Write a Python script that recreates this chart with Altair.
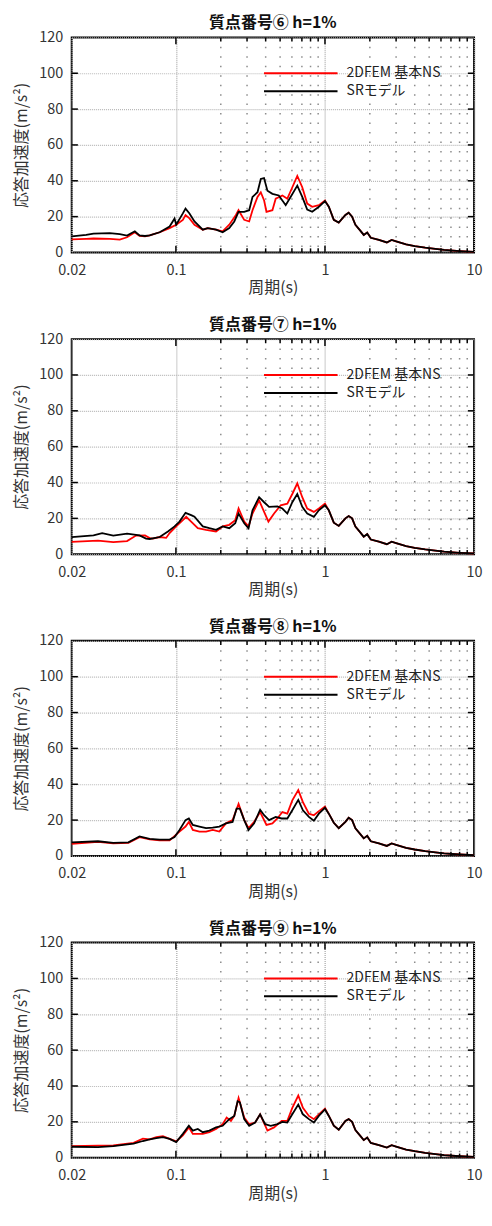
import altair as alt
import pandas as pd

FONT = "Noto Sans CJK JP"

series_names = ["2DFEM 基本NS", "SRモデル"]
series_colors = ["#ff0000", "#000000"]
titles = ["質点番号⑥ h=1%", "質点番号⑦ h=1%", "質点番号⑧ h=1%", "質点番号⑨ h=1%"]

x_label_values = [0.02, 0.1, 1, 10]
y_label_values = [0, 20, 40, 60, 80, 100, 120]
minor_T = [0.2, 0.3, 0.4, 0.5, 0.6, 0.7, 0.8, 0.9, 2, 3, 4, 5, 6, 7, 8, 9]
major_T = [0.1, 1]
y_tick_values = [20, 40, 60, 80, 100]

# shared long-period tail (both models coincide there)
tail_T = [1.52, 1.6, 1.72, 1.82, 1.92, 2.03, 2.3, 2.6, 2.8, 3.0, 3.5, 4.0, 4.7, 5.5, 6.3, 8.0, 10.0]
tail_A = [20.0, 15.4, 12.3, 9.8, 11.2, 8.2, 7.0, 5.6, 7.0, 6.2, 4.5, 3.6, 2.7, 2.0, 1.4, 0.8, 0.4]

# Panel 6
T6_sr = [0.02, 0.025, 0.028, 0.036, 0.042, 0.047, 0.053, 0.057, 0.062, 0.0667, 0.0778, 0.0907, 0.0979, 0.1004, 0.1113, 0.116, 0.1233, 0.1332, 0.1514, 0.1634, 0.1858, 0.2058, 0.228, 0.2463, 0.263, 0.2872, 0.31, 0.3264, 0.3526, 0.371, 0.39, 0.411, 0.444, 0.49, 0.545, 0.588, 0.652, 0.704, 0.76, 0.821, 0.91, 1.0, 1.061, 1.146, 1.237, 1.371, 1.442]
A6_sr = [9.0, 9.8, 10.5, 10.8, 10.2, 9.4, 11.8, 9.5, 9.2, 9.5, 11.3, 14.5, 19.0, 15.5, 21.8, 24.5, 21.8, 17.3, 12.7, 13.6, 12.7, 11.3, 13.6, 17.3, 22.7, 22.7, 23.6, 31.0, 33.6, 41.0, 41.5, 34.5, 32.7, 31.8, 26.4, 31.0, 37.3, 31.0, 24.0, 22.7, 25.5, 28.7, 25.5, 18.2, 16.7, 20.9, 22.2]
T6_fem = [0.02, 0.025, 0.028, 0.036, 0.042, 0.047, 0.053, 0.057, 0.062, 0.0667, 0.0778, 0.0907, 0.1004, 0.1113, 0.116, 0.1233, 0.1332, 0.1514, 0.1634, 0.1858, 0.2058, 0.228, 0.2526, 0.263, 0.2872, 0.31, 0.3264, 0.3526, 0.371, 0.3906, 0.405, 0.444, 0.467, 0.518, 0.559, 0.604, 0.652, 0.704, 0.76, 0.821, 0.91, 1.0, 1.061, 1.146, 1.237, 1.371, 1.442]
A6_fem = [7.3, 7.6, 7.8, 7.6, 7.2, 8.5, 11.3, 9.3, 9.0, 9.5, 11.3, 13.6, 15.5, 18.2, 20.9, 19.0, 15.5, 12.7, 13.6, 12.7, 11.8, 15.5, 20.9, 23.6, 18.2, 17.3, 23.6, 31.0, 33.6, 29.0, 22.7, 23.6, 30.0, 31.8, 30.0, 36.4, 42.7, 36.4, 27.3, 25.5, 26.4, 29.0, 25.5, 18.2, 16.7, 20.9, 22.2]

# Panel 7
T7_sr = [0.02, 0.028, 0.032, 0.038, 0.047, 0.057, 0.063, 0.0667, 0.0778, 0.0884, 0.0979, 0.1057, 0.116, 0.1265, 0.1332, 0.1514, 0.1677, 0.1858, 0.2058, 0.228, 0.25, 0.2632, 0.2872, 0.307, 0.3264, 0.3616, 0.3906, 0.4217, 0.4793, 0.5176, 0.559, 0.6036, 0.652, 0.7041, 0.7602, 0.8422, 0.9096, 1.0, 1.061, 1.146, 1.237, 1.371, 1.442]
A7_sr = [9.5, 10.5, 11.8, 10.4, 11.5, 10.5, 8.7, 8.5, 9.6, 12.7, 15.5, 18.2, 23.1, 21.8, 20.9, 15.5, 14.5, 13.6, 15.5, 14.5, 17.3, 22.7, 17.3, 14.5, 24.5, 31.8, 29.0, 26.4, 26.7, 25.5, 22.7, 29.0, 33.6, 26.4, 22.7, 20.9, 24.5, 27.3, 24.5, 17.6, 15.8, 20.0, 21.3]
T7_fem = [0.02, 0.03, 0.038, 0.047, 0.054, 0.062, 0.0667, 0.07, 0.0778, 0.086, 0.0907, 0.1004, 0.1113, 0.1172, 0.1265, 0.1402, 0.1593, 0.1858, 0.2058, 0.228, 0.25, 0.2632, 0.2872, 0.307, 0.3264, 0.3616, 0.3906, 0.4174, 0.4555, 0.5045, 0.559, 0.6036, 0.652, 0.7041, 0.7602, 0.8422, 0.9096, 1.0, 1.061, 1.146, 1.237, 1.371, 1.442]
A7_fem = [6.9, 7.6, 6.7, 7.3, 10.4, 10.5, 9.0, 8.7, 9.6, 9.1, 11.8, 15.5, 19.0, 20.9, 18.2, 14.5, 13.6, 12.7, 15.5, 16.4, 19.0, 25.5, 18.2, 15.5, 22.7, 30.0, 23.6, 18.2, 22.7, 27.3, 28.2, 33.6, 39.5, 31.8, 25.5, 23.6, 25.5, 28.2, 24.5, 17.6, 15.8, 20.0, 21.3]

# Panel 8
T8_sr = [0.02, 0.03, 0.038, 0.048, 0.057, 0.0667, 0.0778, 0.0907, 0.0979, 0.1057, 0.116, 0.1221, 0.1298, 0.1438, 0.1593, 0.1765, 0.1955, 0.2166, 0.24, 0.2552, 0.2687, 0.2872, 0.307, 0.3348, 0.3672, 0.3906, 0.4217, 0.4672, 0.5123, 0.559, 0.6036, 0.662, 0.7113, 0.7799, 0.8422, 0.9096, 1.0, 1.061, 1.146, 1.237, 1.371, 1.442]
A8_sr = [7.6, 8.2, 7.3, 7.6, 10.9, 9.5, 9.1, 9.1, 10.5, 14.5, 20.0, 20.9, 17.3, 16.4, 15.5, 15.8, 16.4, 18.2, 19.0, 26.4, 26.4, 20.0, 14.5, 18.2, 25.8, 22.7, 20.0, 21.8, 20.9, 20.9, 25.5, 31.3, 25.5, 21.8, 19.6, 23.6, 26.9, 23.6, 18.5, 15.5, 19.0, 21.3]
T8_fem = [0.02, 0.03, 0.038, 0.048, 0.057, 0.0667, 0.0778, 0.0907, 0.1057, 0.116, 0.1221, 0.1298, 0.1438, 0.1593, 0.1765, 0.1955, 0.2166, 0.24, 0.2632, 0.2872, 0.307, 0.3348, 0.3672, 0.4049, 0.4439, 0.4793, 0.5176, 0.559, 0.6036, 0.662, 0.7113, 0.7799, 0.8422, 0.9096, 1.0, 1.061, 1.146, 1.237, 1.371, 1.442]
A8_fem = [6.7, 7.8, 7.0, 7.3, 10.5, 9.3, 8.7, 8.7, 13.6, 16.4, 19.0, 14.5, 13.6, 13.6, 14.5, 13.6, 18.2, 20.0, 29.0, 20.0, 15.5, 19.0, 24.5, 17.3, 18.2, 20.9, 24.5, 23.6, 31.0, 36.7, 30.0, 23.6, 22.7, 25.0, 27.6, 23.6, 18.5, 15.5, 19.0, 21.3]

# Panel 9
T9_sr = [0.02, 0.03, 0.038, 0.052, 0.06, 0.0667, 0.0739, 0.0818, 0.0907, 0.1004, 0.1113, 0.1221, 0.1298, 0.1402, 0.1514, 0.1677, 0.1858, 0.2058, 0.228, 0.2463, 0.2592, 0.2687, 0.2872, 0.31, 0.34, 0.3672, 0.3966, 0.4327, 0.4793, 0.5176, 0.559, 0.6036, 0.662, 0.7113, 0.7799, 0.8422, 0.9096, 1.0, 1.061, 1.146, 1.237, 1.371, 1.442]
A9_sr = [6.1, 5.9, 6.5, 7.8, 9.3, 10.2, 10.9, 11.5, 10.5, 8.7, 13.3, 17.8, 15.1, 16.0, 14.2, 15.1, 16.9, 17.8, 21.5, 23.3, 31.5, 30.9, 21.5, 17.8, 19.6, 24.2, 18.7, 17.8, 18.7, 20.0, 19.6, 24.2, 29.6, 24.2, 21.5, 19.6, 23.3, 26.9, 23.3, 17.8, 15.6, 20.5, 21.5]
T9_fem = [0.02, 0.03, 0.038, 0.052, 0.06, 0.0667, 0.0739, 0.0818, 0.0907, 0.1004, 0.1113, 0.1221, 0.1298, 0.1402, 0.1514, 0.1677, 0.1858, 0.2058, 0.2189, 0.234, 0.2463, 0.2632, 0.2872, 0.31, 0.34, 0.3672, 0.4111, 0.4555, 0.5123, 0.559, 0.6036, 0.662, 0.7113, 0.7799, 0.8422, 0.9096, 1.0, 1.061, 1.146, 1.237, 1.371, 1.442]
A9_fem = [6.5, 6.7, 6.8, 8.3, 10.6, 10.2, 11.5, 12.0, 10.5, 9.1, 12.4, 16.9, 13.3, 13.3, 13.3, 14.2, 16.0, 18.7, 22.4, 20.5, 23.3, 33.3, 22.4, 18.7, 19.6, 24.2, 15.1, 16.9, 20.5, 20.5, 27.8, 34.7, 27.8, 23.3, 21.5, 24.2, 27.3, 23.3, 17.8, 15.6, 20.5, 21.5]

panels = [
    (T6_fem, A6_fem, T6_sr, A6_sr),
    (T7_fem, A7_fem, T7_sr, A7_sr),
    (T8_fem, A8_fem, T8_sr, A8_sr),
    (T9_fem, A9_fem, T9_sr, A9_sr),
]

X_MIN, X_MAX = 0.02, 10
Y_MIN, Y_MAX = 0, 120
x_scale = alt.Scale(type="log", domain=[X_MIN, X_MAX], nice=False)
y_scale = alt.Scale(domain=[Y_MIN, Y_MAX], nice=False)
color_scale = alt.Scale(domain=series_names, range=series_colors)

PW, PH = 404, 216
# tick lengths expressed in data units
maj_len = 3.8   # y units (~7 px)
min_len = 2.3   # y units (~4 px)
ytick_ratio = 1.1  # log-x ratio (~6 px)

x_axis = alt.Axis(values=x_label_values, format="~g", title="周期(s)",
                  grid=True, gridColor="#b8b8b8", gridDash=[1, 1], gridWidth=1.5,
                  ticks=False, domain=False, labelPadding=11, titlePadding=3,
                  labelFlush=False)
y_axis = alt.Axis(values=y_label_values, title="応答加速度(m/s²)",
                  grid=True, gridColor="#b8b8b8", gridDash=[1, 1], gridWidth=1.2,
                  ticks=False, domain=False, labelPadding=9, titlePadding=9)


def series_df(T, A, name):
    d = pd.DataFrame({"T": T + tail_T, "A": A + tail_A})
    d["series"] = name
    return d


def make_panel(idx):
    Tf, Af, Ts, As = panels[idx]
    df_f = series_df(Tf, Af, series_names[0])
    df_s = series_df(Ts, As, series_names[1])

    legend = alt.Legend(orient="none", legendX=192, legendY=28, title=None,
                        symbolType="stroke", symbolSize=5450, symbolStrokeWidth=2,
                        clipHeight=16, rowPadding=2,
                        labelFont=FONT, labelFontSize=14, labelColor="#222",
                        labelOffset=8)

    minor_df = pd.DataFrame({"T": minor_T})
    grid_minor = alt.Chart(minor_df).mark_rule(color="#8c8c8c", strokeDash=[1.5, 8], strokeWidth=1.5).encode(
        x=alt.X("T:Q", scale=x_scale, axis=x_axis)
    )

    red = alt.Chart(df_f).mark_line(strokeWidth=1.8).encode(
        x=alt.X("T:Q", scale=x_scale, axis=x_axis),
        y=alt.Y("A:Q", scale=y_scale, axis=y_axis),
        color=alt.Color("series:N", scale=color_scale, legend=legend),
    )
    black = alt.Chart(df_s).mark_line(strokeWidth=1.8).encode(
        x=alt.X("T:Q", scale=x_scale, axis=x_axis),
        y=alt.Y("A:Q", scale=y_scale, axis=y_axis),
        color=alt.Color("series:N", scale=color_scale, legend=legend),
    )

    # inward tick marks on all four sides
    xt = []
    for t in major_T:
        xt.append({"T": t, "A": Y_MIN, "A2": Y_MIN + maj_len})
        xt.append({"T": t, "A": Y_MAX, "A2": Y_MAX - maj_len})
    for t in minor_T:
        xt.append({"T": t, "A": Y_MIN, "A2": Y_MIN + min_len})
        xt.append({"T": t, "A": Y_MAX, "A2": Y_MAX - min_len})
    xticks = alt.Chart(pd.DataFrame(xt)).mark_rule(color="black", strokeWidth=1.5).encode(
        x=alt.X("T:Q", scale=x_scale, axis=x_axis),
        y=alt.Y("A:Q", scale=y_scale, axis=y_axis),
        y2="A2:Q",
    )
    yt = []
    for v in y_tick_values:
        yt.append({"T": X_MIN, "T2": X_MIN * ytick_ratio, "A": v})
        yt.append({"T": X_MAX, "T2": X_MAX / ytick_ratio, "A": v})
    yticks = alt.Chart(pd.DataFrame(yt)).mark_rule(color="black", strokeWidth=1.5).encode(
        x=alt.X("T:Q", scale=x_scale, axis=x_axis),
        x2="T2:Q",
        y=alt.Y("A:Q", scale=y_scale, axis=y_axis),
    )

    return alt.layer(grid_minor, red, black, xticks, yticks).properties(
        width=PW, height=PH,
        title=alt.TitleParams(titles[idx], font=FONT, fontSize=16, fontWeight="bold",
                              color="#111", offset=-2),
    )


chart = alt.vconcat(*[make_panel(i) for i in range(4)], spacing=19).resolve_scale(
    color="independent"
).resolve_legend(color="independent").configure(
    padding={"left": 4, "top": 4, "right": 0, "bottom": 0}
).configure_view(
    stroke="black", strokeWidth=2
).configure_axis(
    labelFont=FONT, labelFontSize=14.5, labelColor="#333",
    titleFont=FONT, titleFontSize=16, titleFontWeight="normal", titleColor="#333",
)

chart.save("out.html", embed_options={"renderer": "svg", "actions": False})
